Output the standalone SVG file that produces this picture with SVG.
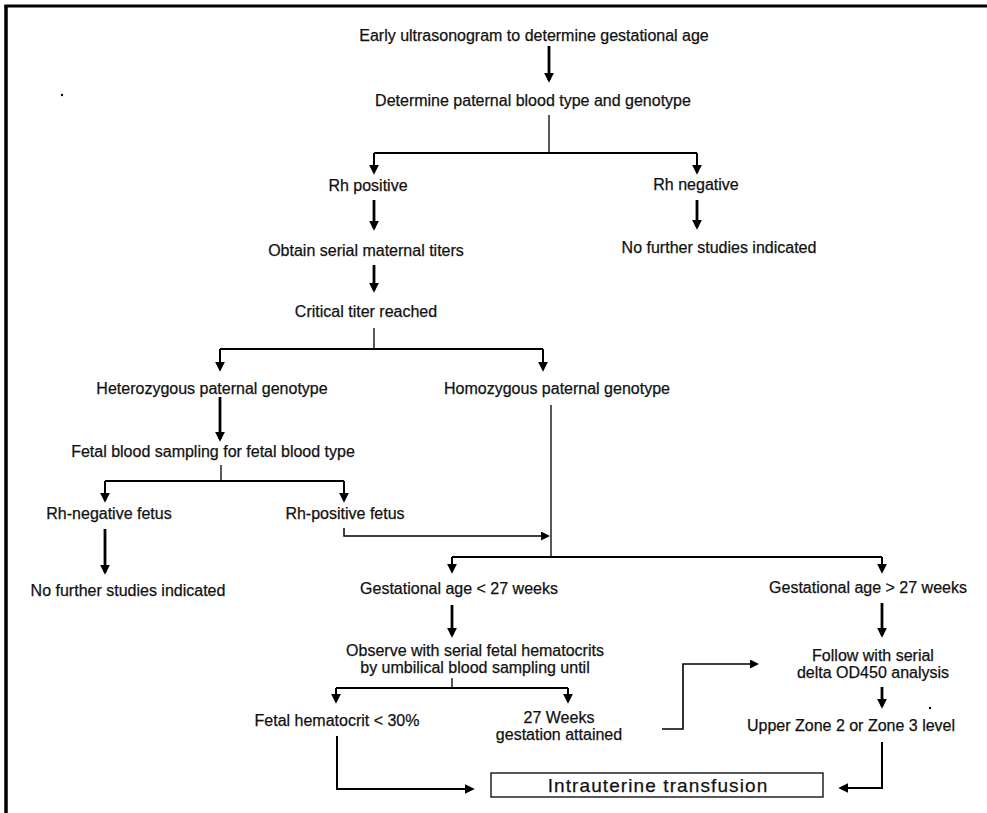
<svg xmlns="http://www.w3.org/2000/svg" width="987" height="813" viewBox="0 0 987 813">
<defs>
<marker id="ah" markerUnits="userSpaceOnUse" markerWidth="10" markerHeight="11" refX="8" refY="5.5" orient="auto" viewBox="0 0 11 11">
<path d="M0,0 L11,5.5 L0,11 Z" fill="#000"/>
</marker>
<marker id="ahs" markerUnits="userSpaceOnUse" markerWidth="9" markerHeight="9" refX="7" refY="4.5" orient="auto" viewBox="0 0 9 9">
<path d="M0,0 L9,4.5 L0,9 Z" fill="#000"/>
</marker>
</defs>
<style>
text{font-family:"Liberation Sans",Arial,Helvetica,sans-serif;font-size:16px;fill:#111;stroke:#111;stroke-width:0.25;text-anchor:middle}
.box text{font-size:19px;letter-spacing:1.1px}
.thick{stroke:#000;stroke-width:2.8;fill:none;marker-end:url(#ah)}
.br{stroke:#000;stroke-width:2;fill:none}
.thin{stroke:#000;stroke-width:1.3;fill:none}
.brA{stroke:#000;stroke-width:2;fill:none;marker-end:url(#ah)}
.thinA{stroke:#000;stroke-width:1.5;fill:none;marker-end:url(#ahs)}
.frame{stroke:#000;fill:none}
</style>
<rect width="987" height="813" fill="#fff"/>
<g id="frame">
<line class="frame" x1="4.5" y1="6" x2="987" y2="6" stroke-width="3"/>
<line class="frame" x1="6" y1="5" x2="6" y2="813" stroke-width="3.5"/>
<circle cx="62" cy="95" r="1.2" fill="#000"/>
<circle cx="930" cy="708" r="1.2" fill="#000"/>
</g>
<g id="connectors">
<path class="thick" d="M549,46 V80"/>
<path class="thin" d="M549,115 V153"/>
<path class="br" d="M374,153 H697"/>
<path class="brA" d="M374,153 V172"/>
<path class="brA" d="M697,153 V172"/>
<path class="thick" d="M374,200 V228"/>
<path class="thick" d="M697,200 V227"/>
<path class="thick" d="M374,265 V290"/>
<path class="thin" d="M374,328 V349"/>
<path class="br" d="M220,349 H543"/>
<path class="brA" d="M220,349 V369"/>
<path class="brA" d="M543,349 V369"/>
<path class="thick" d="M220,397 V439"/>
<path class="thin" d="M221,465 V481"/>
<path class="br" d="M105,481 H344"/>
<path class="brA" d="M105,481 V500"/>
<path class="brA" d="M344,481 V500"/>
<path class="thick" d="M105,529 V572"/>
<path class="thinA" d="M344,528 V536 H548"/>
<path class="thin" d="M551,405 V557"/>
<path class="br" d="M452,557 H882"/>
<path class="brA" d="M452,557 V571"/>
<path class="brA" d="M882,557 V571"/>
<path class="thick" d="M452,605 V635"/>
<path class="thick" d="M882,603 V635"/>
<path class="thin" d="M452,678 V688"/>
<path class="br" d="M336,688 H568"/>
<path class="brA" d="M336,688 V701"/>
<path class="brA" d="M568,688 V701"/>
<path class="thick" d="M882,687 V706"/>
<path class="thinA" d="M662,729 H683 V664 H757" style="stroke-width:1.6"/>
<path class="brA" d="M337,736 V789 H472"/>
<path class="brA" d="M882,742 V788 H841"/>
</g>
<g id="n_early"><text x="534" y="41">Early ultrasonogram to determine gestational age</text></g>
<g id="n_paternal"><text x="533" y="106">Determine paternal blood type and genotype</text></g>
<g id="n_rhpos"><text x="368" y="191">Rh positive</text></g>
<g id="n_rhneg"><text x="696" y="190">Rh negative</text></g>
<g id="n_titers"><text x="366" y="256">Obtain serial maternal titers</text></g>
<g id="n_nofurther1"><text x="719" y="253">No further studies indicated</text></g>
<g id="n_critical"><text x="366" y="317">Critical titer reached</text></g>
<g id="n_hetero"><text x="212" y="394">Heterozygous paternal genotype</text></g>
<g id="n_homo"><text x="557" y="394">Homozygous paternal genotype</text></g>
<g id="n_fbs"><text x="213" y="457">Fetal blood sampling for fetal blood type</text></g>
<g id="n_rhnegfetus"><text x="109" y="519">Rh-negative fetus</text></g>
<g id="n_rhposfetus"><text x="345" y="519">Rh-positive fetus</text></g>
<g id="n_nofurther2"><text x="128" y="596">No further studies indicated</text></g>
<g id="n_galess"><text x="459" y="594">Gestational age &lt; 27 weeks</text></g>
<g id="n_gamore"><text x="868" y="593">Gestational age &gt; 27 weeks</text></g>
<g id="n_observe"><text x="475" y="656">Observe with serial fetal hematocrits</text><text x="475" y="673">by umbilical blood sampling until</text></g>
<g id="n_follow"><text x="873" y="661">Follow with serial</text><text x="873" y="678">delta OD450 analysis</text></g>
<g id="n_hct"><text x="337" y="726">Fetal hematocrit &lt; 30%</text></g>
<g id="n_27wk"><text x="559" y="723">27 Weeks</text><text x="559" y="740">gestation attained</text></g>
<g id="n_upper"><text x="851" y="731">Upper Zone 2 or Zone 3 level</text></g>
<g id="n_iut" class="box"><rect x="491" y="773" width="332" height="24" fill="#fff" stroke="#000" stroke-width="1.3"/><text x="658" y="792">Intrauterine transfusion</text></g>
</svg>
